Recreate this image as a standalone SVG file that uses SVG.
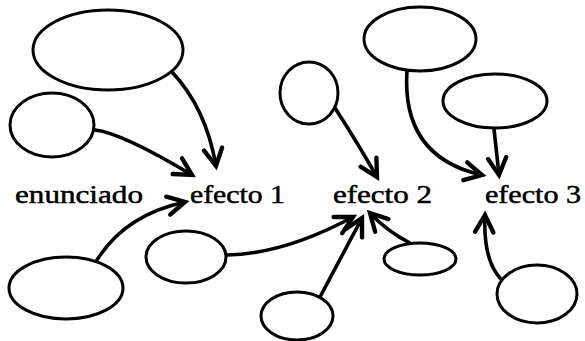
<svg xmlns="http://www.w3.org/2000/svg" width="585" height="341" viewBox="0 0 585 341">
<style>
.n{fill:#fff;stroke:#000;stroke-width:3}
.c{fill:none;stroke:#000;stroke-width:3.6;stroke-linecap:round;marker-end:url(#ah)}
.t{font-family:"Liberation Serif","Times New Roman",serif;font-size:25.5px;fill:#000;stroke:#000;stroke-width:0.5}
</style>
<defs>
<marker id="ah" markerUnits="userSpaceOnUse" markerWidth="24" markerHeight="24" viewBox="-17 -10 21 20" refX="0" refY="0" orient="auto">
<polyline points="-15,-8 0,0 -15,8" fill="none" stroke="#000" stroke-width="3.8" stroke-linecap="round" stroke-linejoin="miter"/>
</marker>
</defs>
<rect width="585" height="341" fill="#fff"/>
<g id="connectors">
<path class="c" d="M172,72 Q206,108 216,166"/>
<path class="c" d="M95,130 Q122,133 192,175"/>
<path class="c" d="M97,260 Q125,215 185,202"/>
<path class="c" d="M227,255 Q284,254 353,217"/>
<path class="c" d="M335,108 Q354,137 377,177"/>
<path class="c" d="M320,297 L362,218"/>
<path class="c" d="M410,243 Q388,232 370,213"/>
<path class="c" d="M407,70 Q401,157 482,175"/>
<path class="c" d="M494,129 L499,175"/>
<path class="c" d="M500,278 Q483,259 485,215"/>
</g>
<g id="n-enunciado"><text class="t" x="15" y="203" textLength="128" lengthAdjust="spacingAndGlyphs">enunciado</text></g>
<g id="n-efecto1"><text class="t" x="190" y="203" textLength="95" lengthAdjust="spacingAndGlyphs">efecto 1</text></g>
<g id="n-efecto2"><text class="t" x="333" y="203" textLength="99" lengthAdjust="spacingAndGlyphs">efecto 2</text></g>
<g id="n-efecto3"><text class="t" x="485" y="203" textLength="96" lengthAdjust="spacingAndGlyphs">efecto 3</text></g>
<g id="n-e1"><ellipse class="n" cx="108" cy="50" rx="75" ry="40"/></g>
<g id="n-e2"><ellipse class="n" cx="52" cy="125" rx="42" ry="32"/></g>
<g id="n-e3"><ellipse class="n" cx="66" cy="288" rx="57" ry="31"/></g>
<g id="n-e4"><ellipse class="n" cx="186" cy="257" rx="40" ry="26"/></g>
<g id="n-e5"><ellipse class="n" cx="309" cy="93" rx="29" ry="31"/></g>
<g id="n-e6"><ellipse class="n" cx="297" cy="316" rx="36" ry="24"/></g>
<g id="n-e7"><ellipse class="n" cx="420" cy="259" rx="36" ry="16"/></g>
<g id="n-e8"><ellipse class="n" cx="420" cy="39" rx="56" ry="32"/></g>
<g id="n-e9"><ellipse class="n" cx="495" cy="101" rx="52" ry="27"/></g>
<g id="n-e10"><ellipse class="n" cx="537" cy="294" rx="40" ry="29"/></g>
</svg>
